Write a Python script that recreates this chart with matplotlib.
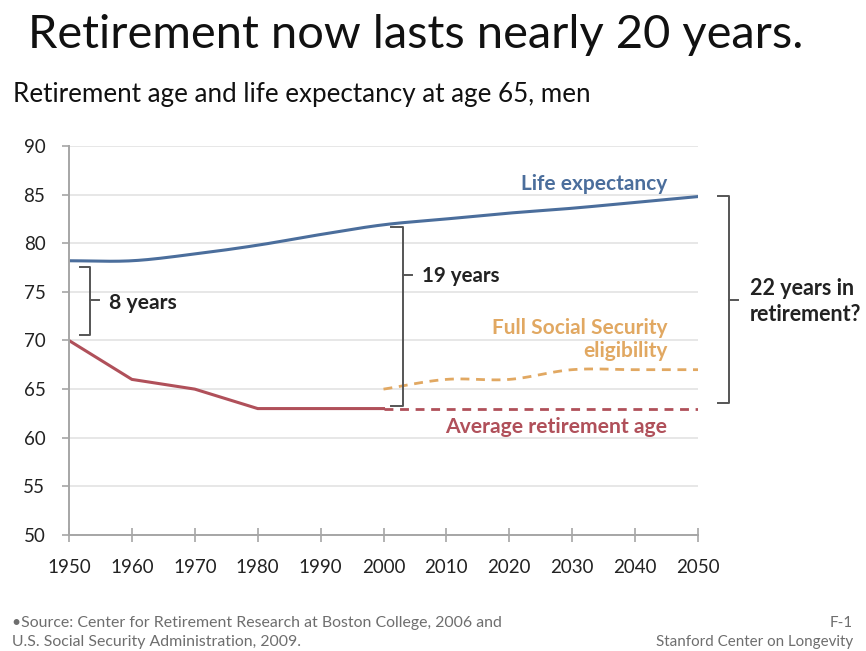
import numpy as np
import matplotlib
matplotlib.use("Agg")
import matplotlib.pyplot as plt

plt.rcParams['font.family'] = ['Lato', 'DejaVu Sans']

years = [1950, 1960, 1970, 1980, 1990, 2000, 2010, 2020, 2030, 2040, 2050]
life_expectancy = [78.2, 78.2, 78.9, 79.8, 80.9, 81.9, 82.5, 83.1, 83.6, 84.2, 84.8]

retire_years = [1950, 1960, 1970, 1980, 1990, 2000]
retire_age = [70, 66, 65, 63, 63, 63]

retire_proj_years = [2000, 2010, 2020, 2030, 2040, 2050]
retire_proj_age = [63, 63, 63, 63, 63, 63]

ss_years = [2000, 2010, 2020, 2030, 2040, 2050]
ss_age = [65, 66, 66, 67, 67, 67]

x_ticks = list(range(1950, 2051, 10))
y_ticks = list(range(50, 91, 5))

BLUE = '#4b6e9c'
RED = '#b0505a'
ORANGE = '#e1a862'
TEXT = '#222222'
BRACKET = '#555555'
FOOT = '#6e6e6e'

W, H = 866, 651


def smooth(xs, ys, n=20):
    """Catmull-Rom curve through the given points (Excel-style smoothed line)."""
    xs = np.asarray(xs, float)
    ys = np.asarray(ys, float)
    px = np.concatenate([[2 * xs[0] - xs[1]], xs, [2 * xs[-1] - xs[-2]]])
    py = np.concatenate([[2 * ys[0] - ys[1]], ys, [2 * ys[-1] - ys[-2]]])
    out_x, out_y = [], []
    for i in range(1, len(px) - 2):
        t = np.linspace(0, 1, n, endpoint=False)
        for p, out in ((px, out_x), (py, out_y)):
            p0, p1, p2, p3 = p[i - 1], p[i], p[i + 1], p[i + 2]
            out.extend(0.5 * ((2 * p1) + (-p0 + p2) * t
                              + (2 * p0 - 5 * p1 + 4 * p2 - p3) * t ** 2
                              + (-p0 + 3 * p1 - 3 * p2 + p3) * t ** 3))
    out_x.append(xs[-1])
    out_y.append(ys[-1])
    return np.array(out_x), np.array(out_y)


fig = plt.figure(figsize=(W / 100, H / 100), dpi=100)
renderer = fig.canvas.get_renderer()


def fit_width(txt, width_px):
    """Scale a text's font size so that it spans the given width in pixels."""
    w = txt.get_window_extent(renderer).width
    txt.set_fontsize(txt.get_fontsize() * width_px / w)
    return txt


def fx(px):
    return px / W


def fy(py):
    return 1 - py / H


ax = fig.add_axes([fx(69), fy(535), (698 - 69) / W, (535 - 146) / H])

ax.set_xlim(1950, 2050)
ax.set_ylim(50, 90)
ax.set_xticks(x_ticks)
ax.set_yticks(y_ticks)
ax.tick_params(axis='x', direction='inout', length=10, width=1.2, color='#a6a6a6',
               labelsize=13.5, pad=12, labelcolor=TEXT)
ax.tick_params(axis='y', direction='out', length=5, width=1.2, color='#a6a6a6',
               labelsize=13.5, pad=12, labelcolor=TEXT)
for side in ('top', 'right'):
    ax.spines[side].set_visible(False)
for side in ('left', 'bottom'):
    ax.spines[side].set_color('#a6a6a6')
    ax.spines[side].set_linewidth(1.4)
ax.grid(axis='y', color='#e3e3e3', linewidth=1.2)
ax.set_axisbelow(True)

# Series
sx, sy = smooth(years, life_expectancy)
ax.plot(sx, sy, color=BLUE, linewidth=2.2)
ax.plot(retire_years, retire_age, color=RED, linewidth=2.2)
ax.plot(retire_proj_years, retire_proj_age, color=RED, linewidth=2.0,
        dashes=(3.2, 2.4))
ox, oy = smooth(ss_years, ss_age)
ax.plot(ox, oy, color=ORANGE, linewidth=2.0, dashes=(3.2, 2.4))

# Series labels (right-aligned)
label_x = 2045.1
fit_width(ax.text(label_x, 86.1, 'Life expectancy', color=BLUE, fontsize=14,
                  fontweight='bold', ha='right', va='center'), 147)
fit_width(ax.text(label_x, 70.1, 'Full Social Security\neligibility', color=ORANGE,
                  fontsize=14, fontweight='bold', ha='right', va='center',
                  linespacing=1.2, multialignment='right'), 177)
fit_width(ax.text(label_x, 61.1, 'Average retirement age', color=RED, fontsize=14,
                  fontweight='bold', ha='right', va='center'), 224)


def bracket(x, y0, y1, ymid, serif, tick):
    ax.plot([x + serif, x, x, x + serif], [y1, y1, y0, y0], color=BRACKET,
            linewidth=1.4, clip_on=False)
    ax.plot([x, x + tick], [ymid, ymid], color=BRACKET, linewidth=1.4,
            clip_on=False)


# 1950 gap between retirement age and life expectancy
gap_1950 = life_expectancy[0] - retire_age[0]
bracket(1953.3, retire_age[0] + 0.6, life_expectancy[0] - 0.6, 74.2, -1.6, 1.4)
fit_width(ax.text(1956.4, 73.9, f'{gap_1950:.0f} years', fontsize=14,
                  fontweight='bold', color=TEXT, ha='left', va='center'), 68)

# 2000 gap
gap_2000 = life_expectancy[5] - retire_age[5]
bracket(2003.1, retire_age[5] + 0.3, life_expectancy[5] - 0.2, 76.7, -1.9, 1.4)
fit_width(ax.text(2006.1, 76.6, f'{round(gap_2000):.0f} years', fontsize=14,
                  fontweight='bold', color=TEXT, ha='left', va='center'), 78)

# 2050 projected gap
gap_2050 = life_expectancy[-1] - retire_proj_age[-1]
bracket(2054.9, retire_proj_age[-1] + 0.6, life_expectancy[-1] + 0.1, 74.2,
        -1.7, 1.4)
fit_width(ax.text(2058.3, 74.0, f'{round(gap_2050):.0f} years in\nretirement?',
                  fontsize=14, fontweight='bold', color=TEXT, ha='left',
                  va='center', linespacing=1.25), 113)

# Titles
fit_width(fig.text(fx(28), fy(48), 'Retirement now lasts nearly 20 years.',
                   fontsize=32, color='#111111', ha='left', va='baseline'), 777)
fit_width(fig.text(fx(13), fy(102), 'Retirement age and life expectancy at age 65, men',
                   fontsize=17, color='#111111', ha='left', va='baseline'), 577)

# Footer
src1 = fit_width(fig.text(fx(12), fy(623),
                          '\u2022Source: Center for Retirement Research at Boston College, 2006 and',
                          fontsize=10, color=FOOT, ha='left', va='center'), 490)
fs = src1.get_fontsize()
fig.text(fx(12), fy(642), 'U.S. Social Security Administration, 2009.',
         fontsize=fs, color=FOOT, ha='left', va='center')
fig.text(fx(853), fy(623), 'F-1', fontsize=fs * 0.95, color=FOOT,
         ha='right', va='center')
fig.text(fx(853), fy(642), 'Stanford Center on Longevity', fontsize=fs * 0.95,
         color=FOOT, ha='right', va='center')

fig.savefig('out.png', dpi=100, facecolor='white')
